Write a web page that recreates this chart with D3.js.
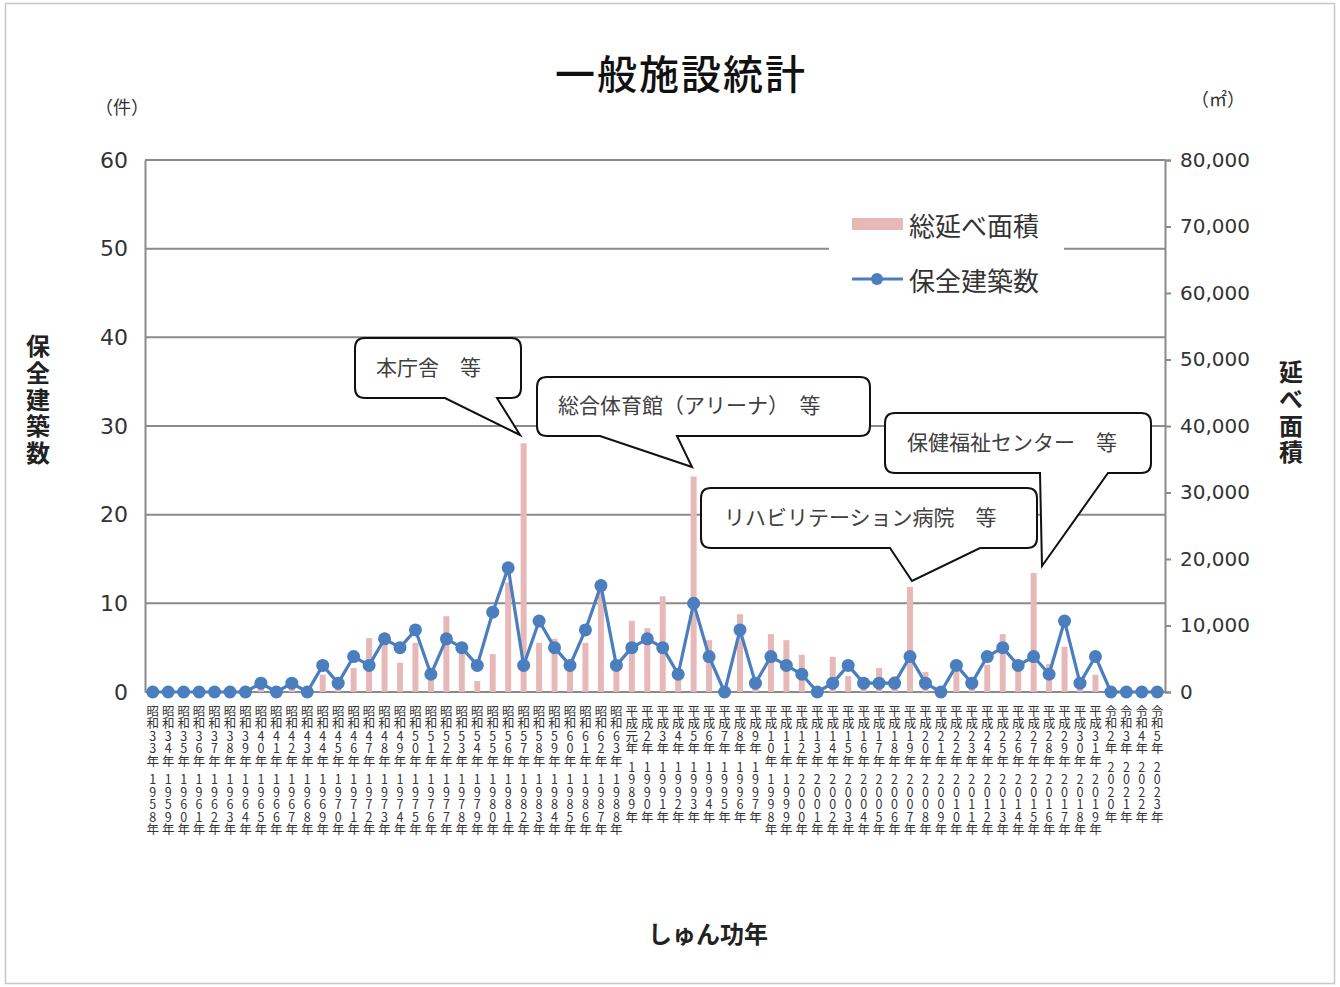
<!DOCTYPE html>
<html>
<head>
<meta charset="utf-8">
<script src="https://cdn.jsdelivr.net/npm/d3@7"></script>
<style>
  html, body { margin: 0; padding: 0; background: #fff; }
  svg { display: block; }
  text { font-family: "Noto Sans CJK JP", "Noto Sans", sans-serif; }
  .vlab { writing-mode: vertical-rl; text-orientation: upright; }
</style>
</head>
<body>
<svg id="chart" width="1340" height="987"></svg>
<script>
// ---------- DATA ----------
const categories = [
  "昭和33年|1958年","昭和34年|1959年","昭和35年|1960年","昭和36年|1961年","昭和37年|1962年",
  "昭和38年|1963年","昭和39年|1964年","昭和40年|1965年","昭和41年|1966年","昭和42年|1967年",
  "昭和43年|1968年","昭和44年|1969年","昭和45年|1970年","昭和46年|1971年","昭和47年|1972年",
  "昭和48年|1973年","昭和49年|1974年","昭和50年|1975年","昭和51年|1976年","昭和52年|1977年",
  "昭和53年|1978年","昭和54年|1979年","昭和55年|1980年","昭和56年|1981年","昭和57年|1982年",
  "昭和58年|1983年","昭和59年|1984年","昭和60年|1985年","昭和61年|1986年","昭和62年|1987年",
  "昭和63年|1988年","平成元年|1989年","平成2年|1990年","平成3年|1991年","平成4年|1992年",
  "平成5年|1993年","平成6年|1994年","平成7年|1995年","平成8年|1996年","平成9年|1997年",
  "平成10年|1998年","平成11年|1999年","平成12年|2000年","平成13年|2001年","平成14年|2002年",
  "平成15年|2003年","平成16年|2004年","平成17年|2005年","平成18年|2006年","平成19年|2007年",
  "平成20年|2008年","平成21年|2009年","平成22年|2010年","平成23年|2011年","平成24年|2012年",
  "平成25年|2013年","平成26年|2014年","平成27年|2015年","平成28年|2016年","平成29年|2017年",
  "平成30年|2018年","平成31年|2019年","令和2年|2020年","令和3年|2021年","令和4年|2022年",
  "令和5年|2023年"
];
// 保全建築数 (件)
const buildingCounts = [
  0,0,0,0,0,0,0,1,0,1,0,
  3,1,4,3,6,5,7,2,6,5,
  3,9,14,3,8,5,3,7,12,3,
  5,6,5,2,10,4,0,7,1,4,
  3,2,0,1,3,1,1,1,4,1,
  0,3,1,4,5,3,4,2,8,1,
  4,0,0,0,0
];
// 総延べ面積 (㎡)
const floorAreas = [
  0,0,0,0,0,0,0,500,0,500,0,
  2600,800,3600,8100,7800,4400,7400,2400,11400,7500,
  1650,5700,16500,37400,7400,8000,3700,7400,15000,3700,
  10700,9600,14400,2400,32400,7800,0,11700,1000,8700,
  7800,5600,0,5300,2400,1000,3600,2400,15800,3000,
  0,3000,1000,4100,8700,4800,17900,4200,6800,800,
  2600,0,0,0,0
];
const leftTicks = [0,10,20,30,40,50,60];
const rightTicks = [0,10000,20000,30000,40000,50000,60000,70000,80000];
const seriesNames = ["総延べ面積","保全建築数"];
const titleText = "一般施設統計";
const callouts = [
  {text:"本庁舎　等"},
  {text:"総合体育館（アリーナ）　等"},
  {text:"リハビリテーション病院　等"},
  {text:"保健福祉センター　等"}
];

// ---------- LAYOUT ----------
const svg = d3.select("#chart");
const plot = {left:145, right:1165, top:160, bottom:692};
const gridColor = "#8a8a8a";
const barColor = "#e6b9b8";
const lineColor = "#4a7ebf";
const numFont = "'DejaVu Sans', 'Liberation Sans', sans-serif";

// outer frame
svg.append("rect").attr("x",5.5).attr("y",3.5).attr("width",1329).attr("height",980)
  .attr("fill","#fff").attr("stroke","#c8c8c8").attr("stroke-width",1.5);

const x = d3.scaleBand().domain(categories).range([plot.left, plot.right]).paddingInner(0).paddingOuter(0);
const yL = d3.scaleLinear().domain([0,60]).range([plot.bottom, plot.top]);
const yR = d3.scaleLinear().domain([0,80000]).range([plot.bottom, plot.top]);

// gridlines
svg.append("g").selectAll("line").data(leftTicks).join("line")
  .attr("x1",plot.left).attr("x2",plot.right)
  .attr("y1",d=>yL(d)).attr("y2",d=>yL(d))
  .attr("stroke",gridColor).attr("stroke-width",2);

// left axis
const gL = svg.append("g").attr("transform",`translate(${plot.left},0)`)
  .call(d3.axisLeft(yL).tickValues(leftTicks).tickSize(0).tickPadding(17));
gL.select(".domain").attr("stroke",gridColor).attr("stroke-width",2);
gL.selectAll("text").attr("font-size",22).attr("fill","#333").style("font-family",numFont);

// right axis
const gR = svg.append("g").attr("transform",`translate(${plot.right},0)`)
  .call(d3.axisRight(yR).tickValues(rightTicks).tickSize(6).tickPadding(9)
    .tickFormat(d3.format(",")));
gR.select(".domain").attr("stroke",gridColor).attr("stroke-width",2);
gR.selectAll("line").attr("stroke",gridColor).attr("stroke-width",2);
gR.selectAll("text").attr("font-size",20).attr("fill","#333").style("font-family",numFont);

// bars
const barW = 6;
svg.append("g").selectAll("rect").data(categories).join("rect")
  .attr("x",(d)=>x(d)+x.bandwidth()/2-barW/2)
  .attr("width",barW)
  .attr("y",(d,i)=>yR(floorAreas[i]))
  .attr("height",(d,i)=>plot.bottom-yR(floorAreas[i]))
  .attr("fill",barColor);

// line
const line = d3.line().x((d,i)=>x(categories[i])+x.bandwidth()/2).y(d=>yL(d));
svg.append("path").datum(buildingCounts).attr("d",line)
  .attr("fill","none").attr("stroke",lineColor).attr("stroke-width",3.2).attr("stroke-linejoin","round");
svg.append("g").selectAll("circle").data(buildingCounts).join("circle")
  .attr("cx",(d,i)=>x(categories[i])+x.bandwidth()/2)
  .attr("cy",d=>yL(d)).attr("r",6.5).attr("fill",lineColor);

// x labels (vertical text, two groups per label)
const gx = svg.append("g");
const charPitch = 12.5;
categories.forEach((c)=>{
  const [a,b] = c.split("|");
  const cx = x(c)+x.bandwidth()/2;
  const y1 = 704.5;
  const y2 = y1 + [...a].length*charPitch + 6;
  gx.append("text").attr("class","vlab").attr("x",cx).attr("y",y1)
    .attr("font-size",charPitch).attr("fill","#333").text(a);
  gx.append("text").attr("class","vlab").attr("x",cx).attr("y",y2)
    .attr("font-size",charPitch).attr("fill","#333").text(b);
});

// title
svg.append("text").attr("x",681).attr("y",72).attr("text-anchor","middle")
  .attr("dominant-baseline","central").attr("font-size",40).attr("font-weight",500)
  .attr("letter-spacing",2).attr("fill","#111").text(titleText);

// units
svg.append("text").attr("x",122).attr("y",106).attr("text-anchor","middle")
  .attr("dominant-baseline","central").attr("font-size",18).attr("fill","#333").text("（件）");
svg.append("text").attr("x",1218).attr("y",98).attr("text-anchor","middle")
  .attr("dominant-baseline","central").attr("font-size",18).attr("fill","#333").text("（㎡）");

// axis titles (vertical)
svg.append("text").attr("class","vlab").attr("x",38).attr("y",334)
  .attr("font-size",24).attr("font-weight",700).attr("letter-spacing",2.7)
  .attr("fill","#222").text("保全建築数");
svg.append("text").attr("class","vlab").attr("x",1291).attr("y",360)
  .attr("font-size",24).attr("font-weight",700).attr("letter-spacing",2.7)
  .attr("fill","#222").text("延べ面積");
svg.append("text").attr("x",708).attr("y",932).attr("text-anchor","middle")
  .attr("dominant-baseline","central").attr("font-size",24).attr("font-weight",700)
  .attr("fill","#222").text("しゅん功年");

// legend
svg.append("rect").attr("x",829).attr("y",196).attr("width",235).attr("height",108).attr("fill","#fff");
svg.append("rect").attr("x",852).attr("y",218).attr("width",51).attr("height",12).attr("fill",barColor);
svg.append("text").attr("x",909).attr("y",224).attr("dominant-baseline","central")
  .attr("font-size",26).attr("fill","#333").text(seriesNames[0]);
svg.append("line").attr("x1",852).attr("x2",903).attr("y1",279).attr("y2",279)
  .attr("stroke",lineColor).attr("stroke-width",3.2);
svg.append("circle").attr("cx",877).attr("cy",279).attr("r",6).attr("fill",lineColor);
svg.append("text").attr("x",909).attr("y",279).attr("dominant-baseline","central")
  .attr("font-size",26).attr("fill","#333").text(seriesNames[1]);

// callouts
function calloutPath(x0,y0,x1,y1,r,bx0,bx1,tx,ty){
  return `M${x0+r},${y0} H${x1-r} Q${x1},${y0} ${x1},${y0+r} V${y1-r} Q${x1},${y1} ${x1-r},${y1}` +
         ` H${bx1} L${tx},${ty} L${bx0},${y1} H${x0+r} Q${x0},${y1} ${x0},${y1-r} V${y0+r} Q${x0},${y0} ${x0+r},${y0} Z`;
}
const calloutGeom = [
  {box:[355,338,521,398], base:[445,497], tip:[520,435], tx:376, ty:366},
  {box:[537,377,870,436], base:[600,677], tip:[692,467], tx:558, ty:404},
  {box:[701,488,1037,548], base:[890,980], tip:[912,581], tx:724, ty:516},
  {box:[885,413,1151,473], base:[1040,1108], tip:[1042,566], tx:907, ty:441}
];
callouts.forEach((c,i)=>{
  const g = calloutGeom[i];
  svg.append("path")
    .attr("d",calloutPath(g.box[0],g.box[1],g.box[2],g.box[3],10,g.base[0],g.base[1],g.tip[0],g.tip[1]))
    .attr("fill","#fff").attr("stroke","#111").attr("stroke-width",2).attr("stroke-linejoin","miter");
  svg.append("text").attr("x",g.tx).attr("y",g.ty).attr("dominant-baseline","central")
    .attr("font-size",21).attr("fill","#404040").text(c.text);
});
</script>
</body>
</html>
